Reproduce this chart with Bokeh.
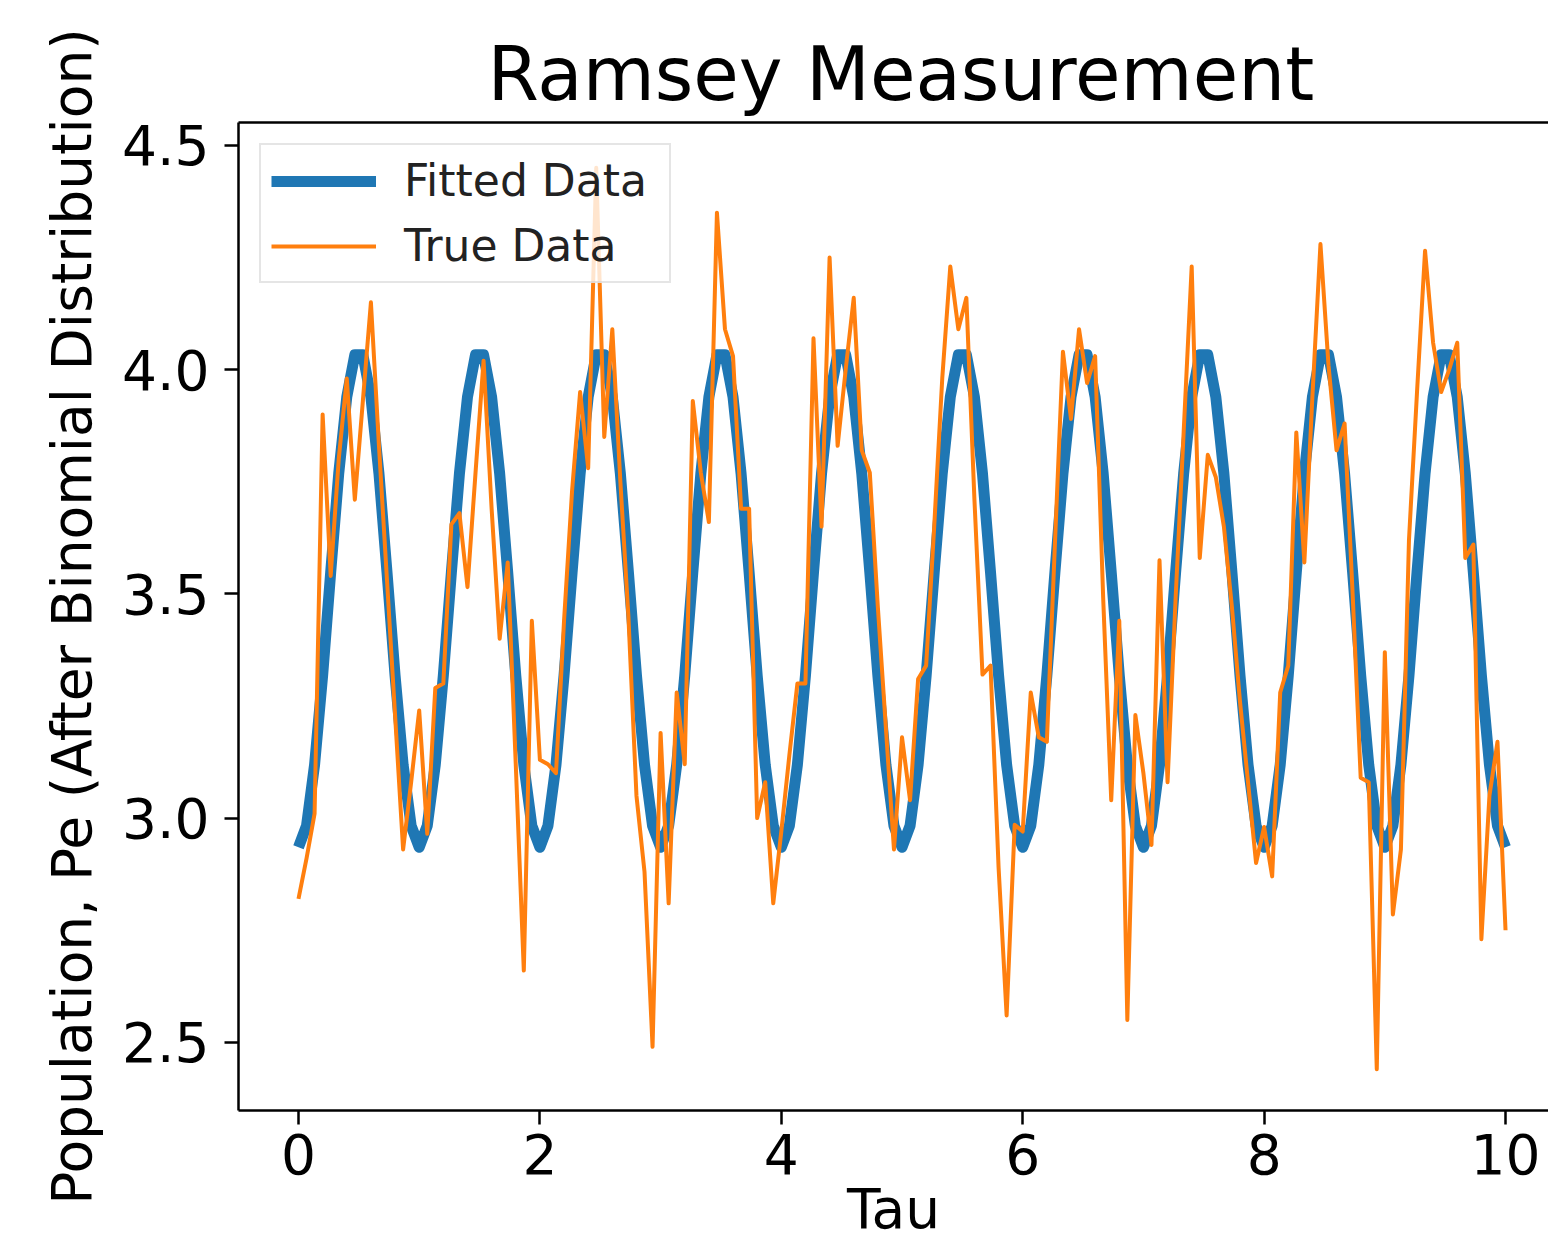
from bokeh.plotting import figure
from bokeh.models import Range1d, LinearAxis, FixedTicker, NumeralTickFormatter, Legend, LegendItem
from bokeh.embed import file_html
from bokeh.resources import INLINE

# ---- data ----
tau = [
    0.0, 0.0667, 0.1333, 0.2, 0.2667, 0.3333, 0.4, 0.4667, 0.5333, 0.6, 0.6667, 0.7333, 0.8, 0.8667, 0.9333,
    1.0, 1.0667, 1.1333, 1.2, 1.2667, 1.3333, 1.4, 1.4667, 1.5333, 1.6, 1.6667, 1.7333, 1.8, 1.8667, 1.9333,
    2.0, 2.0667, 2.1333, 2.2, 2.2667, 2.3333, 2.4, 2.4667, 2.5333, 2.6, 2.6667, 2.7333, 2.8, 2.8667, 2.9333,
    3.0, 3.0667, 3.1333, 3.2, 3.2667, 3.3333, 3.4, 3.4667, 3.5333, 3.6, 3.6667, 3.7333, 3.8, 3.8667, 3.9333,
    4.0, 4.0667, 4.1333, 4.2, 4.2667, 4.3333, 4.4, 4.4667, 4.5333, 4.6, 4.6667, 4.7333, 4.8, 4.8667, 4.9333,
    5.0, 5.0667, 5.1333, 5.2, 5.2667, 5.3333, 5.4, 5.4667, 5.5333, 5.6, 5.6667, 5.7333, 5.8, 5.8667, 5.9333,
    6.0, 6.0667, 6.1333, 6.2, 6.2667, 6.3333, 6.4, 6.4667, 6.5333, 6.6, 6.6667, 6.7333, 6.8, 6.8667, 6.9333,
    7.0, 7.0667, 7.1333, 7.2, 7.2667, 7.3333, 7.4, 7.4667, 7.5333, 7.6, 7.6667, 7.7333, 7.8, 7.8667, 7.9333,
    8.0, 8.0667, 8.1333, 8.2, 8.2667, 8.3333, 8.4, 8.4667, 8.5333, 8.6, 8.6667, 8.7333, 8.8, 8.8667, 8.9333,
    9.0, 9.0667, 9.1333, 9.2, 9.2667, 9.3333, 9.4, 9.4667, 9.5333, 9.6, 9.6667, 9.7333, 9.8, 9.8667, 9.9333,
    10.0,
]

fitted = [
    2.935, 2.983, 3.119, 3.318, 3.548, 3.768, 3.939, 4.033, 4.033, 3.939, 3.768, 3.548, 3.318, 3.119, 2.983,
    2.935, 2.983, 3.119, 3.318, 3.548, 3.768, 3.939, 4.033, 4.033, 3.939, 3.768, 3.548, 3.318, 3.119, 2.983,
    2.935, 2.983, 3.119, 3.318, 3.548, 3.768, 3.939, 4.033, 4.033, 3.939, 3.768, 3.548, 3.318, 3.119, 2.983,
    2.935, 2.983, 3.119, 3.318, 3.548, 3.768, 3.939, 4.033, 4.033, 3.939, 3.768, 3.548, 3.318, 3.119, 2.983,
    2.935, 2.983, 3.119, 3.318, 3.548, 3.768, 3.939, 4.033, 4.033, 3.939, 3.768, 3.548, 3.318, 3.119, 2.983,
    2.935, 2.983, 3.119, 3.318, 3.548, 3.768, 3.939, 4.033, 4.033, 3.939, 3.768, 3.548, 3.318, 3.119, 2.983,
    2.935, 2.983, 3.119, 3.318, 3.548, 3.768, 3.939, 4.033, 4.033, 3.939, 3.768, 3.548, 3.318, 3.119, 2.983,
    2.935, 2.983, 3.119, 3.318, 3.548, 3.768, 3.939, 4.033, 4.033, 3.939, 3.768, 3.548, 3.318, 3.119, 2.983,
    2.935, 2.983, 3.119, 3.318, 3.548, 3.768, 3.939, 4.033, 4.033, 3.939, 3.768, 3.548, 3.318, 3.119, 2.983,
    2.935, 2.983, 3.119, 3.318, 3.548, 3.768, 3.939, 4.033, 4.033, 3.939, 3.768, 3.548, 3.318, 3.119, 2.983,
    2.935,
]

true_data = [
    2.82, 2.91, 3.01, 3.90, 3.54, 3.80, 3.98, 3.71, 3.93, 4.15, 3.83, 3.53, 3.23, 2.93, 3.08,
    3.24, 2.965, 3.29, 3.30, 3.655, 3.68, 3.515, 3.77, 4.02, 3.69, 3.40, 3.57, 3.12, 2.66, 3.44,
    3.13, 3.12, 3.10, 3.44, 3.73, 3.95, 3.78, 4.45, 3.85, 4.09, 3.75, 3.45, 3.05, 2.88, 2.49,
    3.19, 2.81, 3.28, 3.12, 3.93, 3.77, 3.66, 4.35, 4.09, 4.03, 3.69, 3.69, 3.00, 3.08, 2.81,
    2.97, 3.14, 3.30, 3.30, 4.07, 3.65, 4.25, 3.83, 4.00, 4.16, 3.82, 3.77, 3.47, 3.20, 2.93,
    3.18, 3.04, 3.31, 3.34, 3.65, 3.98, 4.23, 4.09, 4.16, 3.71, 3.32, 3.34, 2.89, 2.56, 2.985,
    2.97, 3.28, 3.18, 3.17, 3.61, 4.04, 3.89, 4.09, 3.97, 4.03, 3.49, 3.04, 3.44, 2.55, 3.23,
    3.10, 2.94, 3.575, 3.08, 3.49, 3.86, 4.23, 3.58, 3.81, 3.76, 3.65, 3.47, 3.26, 3.08, 2.90,
    2.98, 2.87, 3.28, 3.34, 3.86, 3.57, 3.94, 4.28, 4.01, 3.82, 3.88, 3.50, 3.09, 3.08, 2.44,
    3.37, 2.785, 2.93, 3.62, 3.95, 4.265, 4.06, 3.95, 4.00, 4.06, 3.58, 3.61, 2.73, 3.05, 3.17,
    2.75,
]

x_ticks = [0, 2, 4, 6, 8, 10]
y_ticks = [2.5, 3.0, 3.5, 4.0, 4.5]

title_text = "Ramsey Measurement"
x_label = "Tau"
y_label = "Population, Pe (After Binomial Distribution)"
series_names = ["Fitted Data", "True Data"]

BLUE = "#1f77b4"
ORANGE = "#ff7f0e"
FONT = "DejaVu Sans"

p = figure(
    width=1548, height=1245,
    x_range=Range1d(-0.497, 10.356), y_range=Range1d(2.348, 4.551),
    output_backend="svg", toolbar_location=None,
    min_border_left=238, min_border_right=0, min_border_top=122, min_border_bottom=135,
)
xax = p.below[0]
yax = p.left[0]

p.outline_line_color = None
p.xgrid.visible = False
p.ygrid.visible = False
p.background_fill_color = "white"
p.border_fill_color = "white"

# title
p.title.text = title_text
p.title.text_font = FONT
p.title.text_font_size = "74px"
p.title.text_font_style = "normal"
p.title.text_color = "black"
p.title.align = "left"
p.title.offset = 249
p.title.standoff = 12

# top border as an empty axis
top_axis = LinearAxis(ticker=FixedTicker(ticks=[]), major_label_text_font_size="0px",
                      major_tick_out=0, major_tick_in=0, minor_tick_out=0, minor_tick_in=0,
                      major_label_standoff=0, axis_line_width=2.5, axis_line_color="black")
p.add_layout(top_axis, "above")

for ax in (xax, yax):
    ax.axis_line_width = 2.5
    ax.axis_line_color = "black"
    ax.major_tick_line_width = 2.5
    ax.major_tick_line_color = "black"
    ax.major_tick_out = 14
    ax.major_tick_in = 0
    ax.minor_tick_out = 0
    ax.minor_tick_in = 0
    ax.major_label_text_font = FONT
    ax.major_label_text_font_size = "55px"
    ax.major_label_text_color = "black"
    ax.axis_label_text_font = FONT
    ax.axis_label_text_font_size = "55px"
    ax.axis_label_text_font_style = "normal"
    ax.axis_label_text_color = "black"

xax.ticker = FixedTicker(ticks=x_ticks)
yax.ticker = FixedTicker(ticks=y_ticks)
yax.formatter = NumeralTickFormatter(format="0.0")
xax.axis_label = x_label
yax.axis_label = y_label
xax.major_label_standoff = 9
xax.axis_label_standoff = 0
yax.major_label_standoff = 15
yax.axis_label_standoff = 15

r_fit = p.line(tau, fitted, line_color=BLUE, line_width=11, line_join="round")
r_true = p.line(tau, true_data, line_color=ORANGE, line_width=4, line_join="round")

legend = Legend(items=[LegendItem(label=series_names[0], renderers=[r_fit]),
                       LegendItem(label=series_names[1], renderers=[r_true])],
                location="top_left")
legend.label_text_font = FONT
legend.label_text_font_size = "44px"
legend.label_text_color = "#222222"
legend.glyph_width = 105
legend.glyph_height = 50
legend.label_height = 50
legend.label_width = 255
legend.label_standoff = 28
legend.spacing = 14
legend.padding = 10
legend.margin = 21
legend.border_line_color = "#cccccc"
legend.border_line_width = 2
legend.background_fill_alpha = 0.8
p.add_layout(legend)

open("out.html", "w").write(file_html(p, INLINE))
